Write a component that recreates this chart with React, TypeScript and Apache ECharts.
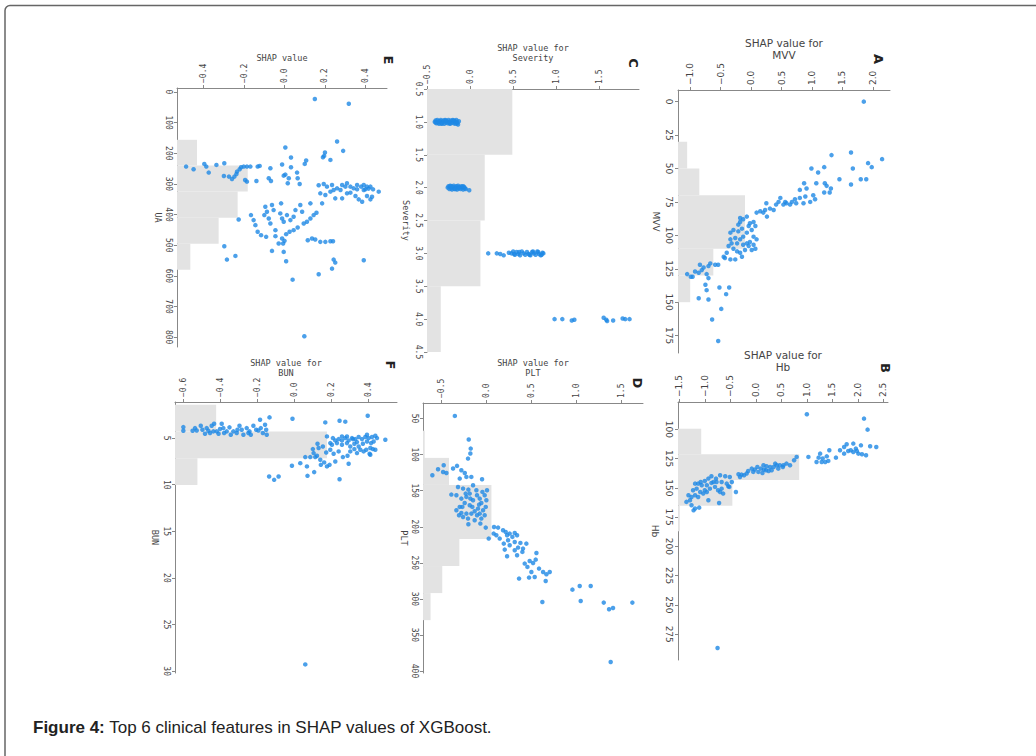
import React, { useEffect, useRef } from "react";
import * as echarts from "echarts";

// ---------- labels ----------
const panelLetters = ["A", "B", "C", "D", "E", "F"];
const featureNames = ["MVV", "Hb", "Severity", "PLT", "UA", "BUN"];
const shapTitles = [
  "SHAP value for\nMVV",
  "SHAP value for\nHb",
  "SHAP value for\nSeverity",
  "SHAP value for\nPLT",
  "SHAP value",
  "SHAP value for\nBUN",
];
const captionBold = "Figure 4:";
const captionText = " Top 6 clinical features in SHAP values of XGBoost.";

// ---------- tick labels ----------
const shapTicksA = [-1.0, -0.5, 0.0, 0.5, 1.0, 1.5, 2.0];
const featTicksA = [0, 25, 50, 75, 100, 125, 150, 175];
const shapTicksB = [-1.5, -1.0, -0.5, 0.0, 0.5, 1.0, 1.5, 2.0, 2.5];
const featTicksB = [100, 125, 150, 175, 200, 225, 250, 275];
const shapTicksC = [-0.5, 0.0, 0.5, 1.0, 1.5];
const featTicksC = [0.5, 1.0, 1.5, 2.0, 2.5, 3.0, 3.5, 4.0, 4.5];
const shapTicksD = [-0.5, 0.0, 0.5, 1.0, 1.5];
const featTicksD = [50, 100, 150, 200, 250, 300, 350, 400];
const shapTicksE = [-0.4, -0.2, 0.0, 0.2, 0.4];
const featTicksE = [0, 100, 200, 300, 400, 500, 600, 700, 800];
const shapTicksF = [-0.6, -0.4, -0.2, 0.0, 0.2, 0.4];
const featTicksF = [5, 10, 15, 20, 25, 30];

// ---------- histograms (bin edges on feature axis, bar extent in SHAP units) ----------
const histEdgesA = [30, 50, 70, 90, 110, 130, 150];
const histExtentA = [-1.05, -0.85, -0.1, -0.1, -0.62, -1.0];
const histEdgesB = [99.5, 121.4, 143.3, 165.2, 187.1];
const histExtentB = [-1.07, 0.85, -0.46, -1.49];
const histEdgesC = [0.5, 1.5, 2.5, 3.5, 4.5];
const histExtentC = [0.49, 0.17, 0.12, -0.34];
const histEdgesD = [67, 104.5, 142, 179.5, 217, 254.5, 292, 329.5];
const histExtentD = [-0.685, -0.415, 0.056, 0.056, -0.3, -0.49, -0.62];
const histEdgesE = [156, 240, 325, 410, 495, 580];
const histExtentE = [-0.433, -0.182, -0.232, -0.326, -0.466];
const histEdgesF = [1.42, 4.29, 7.16, 10.03];
const histExtentF = [-0.423, 0.175, -0.524];

// ---------- points: [feature value, SHAP value] ----------
const pointsA: [number, number][] = [
  [0, 1.85], [38, 1.64], [40, 1.32], [43, 2.15], [46, 1.92], [49, 1.98], [50, 0.99], [50, 1.67], [49, 1.2], [53, 1.1],
  [58, 1.45], [58, 1.8], [58, 1.89], [62, 1.64], [61, 0.87], [61, 1.07], [61, 1.21], [66, 0.8], [65, 0.91], [63, 1.24],
  [65, 1.31], [68, 1.29], [68, 1.2], [70, 1.02], [73, 1.05], [71, 0.89], [72, 0.8], [73, 0.72], [75, 0.67], [76, 0.58],
  [77, 0.53], [72, 0.48], [75, 0.45], [77, 0.41], [81, 0.37], [80, 0.31], [76, 0.25], [81, 0.23], [83, 0.2], [82, 0.15],
  [83, 0.09], [86, 0.26], [76, 0.74], [76, 0.86], [75, 0.97], [77, 0.64], [75, 0.56],
  [86, -0.07], [88, -0.13], [90, -0.18], [91, -0.02], [90, 0.04], [93, 0.07], [96, 0.01], [98, -0.07], [95, -0.15], [97, -0.21],
  [101, -0.13], [103, -0.18], [106, -0.23], [102, -0.26], [106, -0.32], [103, -0.34], [108, -0.37], [110, -0.29], [112, -0.23], [113, -0.18],
  [111, -0.1], [108, -0.04], [111, 0.01], [107, 0.04], [105, -0.02], [106, -0.07], [107, -0.13], [116, -0.15], [118, -0.26], [118, -0.34],
  [117, -0.43], [113, -0.4], [116, -0.45], [98, -0.34], [96, -0.29], [92, -0.21], [87, -0.18], [101, 0.04], [103, 0.09], [110, 0.07], [93, -0.04],
  [122, -0.54], [122, -0.59], [121, -0.67], [123, -0.7], [124, -0.78], [122, -0.84], [126, -0.81], [128, -0.86], [127, -0.92], [131, -0.96],
  [129, -1.05], [131, -0.99], [129, -0.73], [132, -0.7], [137, -0.75], [141, -0.73], [139, -0.52], [139, -0.36], [144, -0.41], [147, -0.86],
  [148, -0.7], [155, -0.49], [163, -0.64], [179, -0.54],
];

const pointsB: [number, number][] = [
  [87.2, 1.0], [90.9, 2.12], [100.3, 2.19], [115.1, 2.36], [113.7, 2.06], [116.5, 1.96], [112.2, 1.91], [112.8, 1.78], [115.1, 1.73], [117.9, 1.65],
  [120.8, 1.73], [118.5, 1.81], [117.9, 1.86], [119.4, 1.91], [118.5, 1.98], [120.8, 2.01], [121.3, 2.08], [122.2, 2.16], [114.5, 2.24], [124.2, 1.57],
  [117.9, 1.44], [123.1, 1.39], [125.0, 1.31], [124.2, 1.23], [127.9, 1.29], [127.9, 1.36], [127.0, 1.42], [127.9, 1.19], [120.8, 1.26], [123.6, 1.03],
  [123.6, 0.8], [126.5, 0.75], [130.7, 0.67], [129.3, 0.6], [130.7, 0.54], [130.7, 0.47], [130.7, 0.41], [129.3, 0.38], [132.2, 0.35], [132.2, 0.28],
  [131.6, 0.21], [130.7, 0.15], [134.4, 0.16], [133.6, 0.1], [132.2, 0.03], [134.4, -0.02], [136.4, -0.05], [133.6, -0.08], [135.6, -0.15], [137.8, -0.18],
  [139.3, -0.23], [138.7, -0.28], [140.7, -0.31], [138.4, -0.34], [135.6, 0.25], [135.0, 0.31], [133.6, 0.44], [132.2, 0.53], [136.4, 0.05], [137.3, 0.13], [135.0, 0.2],
  [140.7, -0.51], [140.1, -0.6], [139.3, -0.7], [142.1, -0.78], [140.1, -0.87], [142.1, -0.93], [144.1, -1.0], [145.0, -1.08], [146.4, -1.13], [146.4, -1.19],
  [147.8, -0.96], [145.8, -0.87], [145.0, -0.77], [145.0, -0.67], [146.4, -0.57], [145.0, -0.47], [149.2, -0.52], [150.7, -0.67], [152.1, -0.74], [149.2, -0.8],
  [150.7, -0.9], [152.1, -1.0], [153.5, -1.09], [150.7, -1.16], [152.1, -1.23], [156.3, -1.19], [157.8, -1.26], [156.3, -1.32], [160.6, -1.29], [162.0, -1.36],
  [164.9, -1.26], [167.7, -1.19], [166.9, -1.11], [169.2, -1.22], [160.6, -0.93], [162.9, -0.72], [153.5, -0.7], [154.9, -0.64], [148.7, -0.54], [153.5, -0.39],
  [145.0, -0.83], [147.8, -1.06], [157.8, -1.13], [154.9, -1.03], [153.5, -0.96], [286.7, -0.75],
];

const pointsC: [number, number][] = [
  [1.0, -0.41], [0.98, -0.4], [1.02, -0.39], [0.97, -0.38], [1.01, -0.37], [1.03, -0.36], [0.99, -0.35], [0.97, -0.34], [1.02, -0.33], [1.0, -0.32],
  [0.98, -0.31], [1.03, -0.3], [0.97, -0.29], [1.01, -0.28], [0.99, -0.27], [1.02, -0.26], [0.97, -0.25], [1.0, -0.24], [1.03, -0.23], [0.98, -0.22],
  [1.01, -0.21], [0.97, -0.2], [1.02, -0.19], [0.99, -0.18], [1.0, -0.17], [0.97, -0.16], [1.02, -0.15], [1.04, -0.14], [0.99, -0.13], [1.01, -0.4],
  [0.99, -0.36], [1.03, -0.33], [0.98, -0.28], [1.02, -0.24], [0.98, -0.19], [1.03, -0.17], [1.0, -0.15],
  [2.0, -0.26], [1.98, -0.25], [2.02, -0.24], [1.97, -0.23], [2.01, -0.22], [2.03, -0.21], [1.99, -0.2], [1.97, -0.19], [2.02, -0.18], [2.0, -0.17],
  [1.98, -0.16], [2.03, -0.15], [1.97, -0.14], [2.01, -0.13], [1.99, -0.12], [2.02, -0.11], [1.98, -0.1], [2.0, -0.09], [2.03, -0.08], [1.99, -0.07],
  [2.01, -0.06], [2.02, -0.05], [2.04, -0.01], [1.98, -0.22], [2.02, -0.17], [2.0, -0.13], [1.98, -0.08],
  [3.0, 0.21], [3.0, 0.31], [3.01, 0.35], [3.03, 0.39], [2.99, 0.45], [3.0, 0.48], [2.97, 0.5], [3.02, 0.52], [2.98, 0.54], [3.01, 0.56],
  [3.03, 0.58], [2.97, 0.6], [3.0, 0.62], [3.02, 0.64], [2.98, 0.66], [3.01, 0.68], [3.03, 0.7], [2.98, 0.72], [3.0, 0.74], [3.02, 0.76],
  [2.97, 0.78], [3.01, 0.8], [3.03, 0.82], [2.99, 0.84], [3.0, 0.85], [3.02, 0.83], [2.98, 0.79], [3.01, 0.51], [2.98, 0.57], [3.02, 0.69], [2.97, 0.73],
  [4.0, 0.98], [4.0, 1.07], [4.02, 1.18], [4.01, 1.21], [3.98, 1.55], [4.01, 1.58], [4.03, 1.59], [4.02, 1.66], [3.99, 1.77], [4.0, 1.8], [4.0, 1.85],
];

const pointsD: [number, number][] = [
  [46.3, -0.35], [79.1, -0.196], [91.6, -0.174], [98.5, -0.178], [105.5, -0.204], [134.1, -0.048],
  [128.6, -0.6], [120.3, -0.537], [114.7, -0.474], [124.0, -0.481], [125.4, -0.444], [119.3, -0.37], [115.6, -0.326], [121.7, -0.278], [125.4, -0.24], [133.2, -0.296],
  [130.9, -0.222], [130.9, -0.167], [144.8, -0.315], [147.1, -0.259], [148.5, -0.2], [142.5, -0.148], [149.4, -0.111], [155.4, -0.389], [156.3, -0.333], [161.0, -0.278],
  [158.6, -0.222], [154.0, -0.185], [163.3, -0.148], [167.0, -0.241], [170.2, -0.185], [172.5, -0.296], [177.1, -0.333], [180.8, -0.278], [181.8, -0.222], [186.4, -0.259],
  [188.7, -0.204], [184.1, -0.304], [181.8, -0.167], [172.5, -0.156], [191.0, -0.13], [196.6, -0.2], [156.3, -0.104], [161.0, -0.074], [156.3, -0.019], [163.3, 0.0],
  [167.0, -0.056], [172.5, -0.007], [174.8, -0.093], [177.1, -0.037], [181.8, -0.074], [184.1, -0.019], [188.7, -0.056], [184.1, -0.104], [195.6, -0.067], [201.2, -0.007],
  [149.4, 0.007], [151.7, -0.044], [169.3, -0.081], [178.5, -0.13], [154.0, -0.23], [161.0, -0.178], [172.5, -0.267],
  [216.4, 0.026], [200.3, 0.085], [201.2, 0.13], [209.5, 0.081], [211.8, 0.111], [216.4, 0.148], [204.9, 0.185], [207.2, 0.215], [211.8, 0.23], [209.5, 0.259],
  [208.6, 0.315], [211.8, 0.341], [214.1, 0.289], [218.7, 0.241], [223.4, 0.193], [225.7, 0.259], [221.1, 0.315], [231.7, 0.204], [240.9, 0.23], [232.6, 0.315],
  [228.9, 0.352], [222.4, 0.378], [234.9, 0.4], [239.6, 0.341], [230.3, 0.407], [223.4, 0.444], [236.3, 0.556], [251.1, 0.426], [247.4, 0.481], [250.2, 0.519],
  [245.6, 0.548], [255.7, 0.456], [262.7, 0.5], [269.6, 0.537], [270.5, 0.474], [271.9, 0.363], [258.0, 0.585], [262.7, 0.63], [265.9, 0.667], [262.7, 0.704],
  [275.2, 0.659], [304.3, 0.622], [287.2, 0.956], [282.1, 1.037], [282.1, 1.159], [302.9, 1.048], [305.2, 1.304], [314.4, 1.363], [312.6, 1.407], [305.2, 1.622],
  [387.5, 1.381],
];

const pointsE: [number, number][] = [
  [22.9, 0.15], [38.2, 0.318], [161.5, 0.26], [192.1, 0.29], [197.5, 0.2], [208.5, 0.196], [212.8, 0.19], [221.6, 0.227], [181.2, 0.004], [213.9, 0.032],
  [223.7, 0.107], [234.7, 0.1],
  [243.4, -0.487], [252.1, -0.45], [234.7, -0.397], [243.4, -0.387], [237.9, -0.337], [232.5, -0.298], [263.0, -0.375], [273.9, -0.3], [283.8, -0.26], [267.4, -0.238],
  [252.1, -0.222], [245.6, -0.215], [243.4, -0.202], [243.4, -0.186], [243.4, -0.169], [243.4, -0.133], [241.2, -0.123], [259.8, -0.235], [276.1, -0.248], [287.0, -0.195],
  [292.5, -0.186], [290.3, -0.139], [248.8, -0.07], [281.6, -0.078], [290.3, -0.067], [236.8, -0.012], [272.9, -0.004], [269.6, 0.004], [281.6, 0.021], [297.9, 0.016],
  [245.6, 0.032], [263.0, 0.062], [281.6, 0.065], [300.1, 0.075], [276.1, -0.275],
  [304.5, 0.169], [300.1, 0.194], [308.8, 0.21], [303.4, 0.235], [319.8, 0.243], [314.4, 0.26], [303.4, 0.285], [308.8, 0.301], [297.9, 0.309], [308.8, 0.326],
  [314.4, 0.342], [303.4, 0.359], [308.8, 0.379], [303.4, 0.392], [317.6, 0.4], [308.8, 0.408], [315.4, 0.416], [308.8, 0.425], [317.6, 0.438], [325.2, 0.466],
  [325.2, 0.227], [336.1, 0.202], [330.7, 0.177], [347.1, 0.251], [347.1, 0.285], [328.5, 0.326], [339.4, 0.351], [350.3, 0.367], [358.0, 0.384], [339.4, 0.408],
  [350.3, 0.425], [341.6, 0.433], [330.7, 0.309], [319.8, 0.277], [363.4, 0.186], [363.4, 0.128], [317.6, 0.359], [319.8, 0.392],
  [401.6, -0.166], [418.0, -0.153], [434.4, -0.144], [456.2, -0.133], [467.1, -0.116], [374.3, -0.095], [390.7, -0.087], [401.6, -0.1], [412.6, -0.078], [368.9, -0.062],
  [385.3, -0.054], [428.9, -0.07], [450.8, -0.045], [396.2, -0.021], [412.6, -0.012], [423.5, -0.004], [363.4, -0.017], [401.6, 0.012], [418.0, 0.029], [407.1, 0.045],
  [385.3, 0.054], [368.9, 0.078], [390.7, 0.087], [428.9, 0.095], [423.5, 0.111], [412.6, 0.128], [401.6, 0.144], [394.0, 0.158], [463.9, 0.008], [456.2, 0.025],
  [450.8, 0.045], [442.0, 0.065], [415.8, -0.227], [470.4, -0.045], [472.6, -0.091], [478.0, -0.012], [494.4, -0.029], [494.4, -0.007], [485.7, 0.0], [483.5, 0.115],
  [478.0, 0.136], [481.4, 0.152], [489.0, 0.177], [489.0, 0.202], [486.8, 0.227], [486.8, 0.24], [503.1, -0.298], [518.4, -0.062], [521.7, -0.004], [546.8, -0.285],
  [534.8, -0.243], [552.3, 0.008], [546.8, 0.243], [556.6, 0.251], [576.3, 0.235], [549.0, 0.392], [594.8, 0.169], [612.3, 0.04], [796.7, 0.098],
];

const pointsF: [number, number][] = [
  [3.82, -0.6], [4.21, -0.6], [4.21, -0.55], [4.18, -0.528], [3.67, -0.506], [3.93, -0.474], [4.21, -0.465], [3.67, -0.447], [3.46, -0.434], [4.53, -0.483],
  [4.46, -0.456], [4.28, -0.42], [4.03, -0.402], [3.46, -0.393], [4.46, -0.38], [4.28, -0.366], [3.85, -0.351], [4.64, -0.344], [4.28, -0.33], [4.46, -0.312],
  [3.67, -0.297], [4.1, -0.285], [4.64, -0.276], [3.93, -0.258], [4.28, -0.243], [4.64, -0.236], [3.67, -0.222], [4.1, -0.207], [4.18, -0.195], [3.03, -0.186],
  [3.93, -0.182], [4.46, -0.171], [3.57, -0.159], [4.1, -0.153], [2.78, -0.135], [4.64, -0.15], [3.93, -0.384], [4.53, -0.41], [4.28, -0.438], [4.1, -0.308],
  [4.46, -0.249], [4.1, -0.497], [3.93, -0.537],
  [2.92, -0.011], [3.32, 0.166], [3.14, 0.243], [3.24, 0.274], [2.6, 0.395],
  [5.18, 0.49], [4.75, 0.436], [4.89, 0.418], [5.0, 0.4], [4.89, 0.382], [5.11, 0.364], [4.89, 0.346], [5.11, 0.328], [5.0, 0.31], [5.25, 0.292],
  [5.0, 0.274], [5.25, 0.256], [5.11, 0.238], [5.25, 0.22], [5.0, 0.207], [5.54, 0.193], [4.82, 0.175], [5.72, 0.202], [5.54, 0.229], [5.72, 0.256],
  [5.54, 0.283], [5.9, 0.301], [5.61, 0.323], [5.9, 0.346], [5.61, 0.369], [5.36, 0.391], [5.54, 0.413], [5.36, 0.427], [5.0, 0.445], [6.07, 0.409],
  [6.25, 0.387], [6.18, 0.423], [6.25, 0.436], [6.68, 0.405], [6.43, 0.373], [6.25, 0.355], [6.61, 0.337], [6.18, 0.323], [6.43, 0.301], [6.9, 0.286],
  [7.04, 0.261], [6.43, 0.238], [6.68, 0.211], [6.25, 0.193], [6.54, 0.171], [5.9, 0.153], [5.61, 0.124], [6.07, 0.13], [6.61, 0.103], [6.18, 0.099],
  [6.9, 0.121], [7.33, 0.139], [7.04, 0.112], [7.87, 0.142], [7.61, 0.16], [8.04, 0.175], [7.87, 0.189], [7.51, 0.22], [7.76, 0.292], [7.04, 0.058],
  [7.69, 0.031], [7.97, -0.014], [8.04, 0.067], [8.65, 0.106], [9.05, 0.07], [7.04, 0.085], [9.41, 0.243], [4.82, 0.256], [5.11, 0.315], [4.82, 0.283],
  [5.43, 0.337], [6.79, 0.409], [4.64, 0.391], [9.12, -0.137], [9.48, -0.11], [9.12, -0.086], [29.28, 0.058],
];

// ---------- panel setup ----------
const SANS = "DejaVu Sans";
const MONO = "DejaVu Sans Mono";

type Panel = {
  grid: { left: number; top: number; width: number; height: number };
  xRange: [number, number];
  yRange: [number, number];
  xTicks: number[];
  yTicks: number[];
  yDec: number;
  edges: number[];
  extent: number[];
  points: [number, number][];
  font: string;
  tickSize: number;
  titleSize: number;
  nameSize: number;
  titleGap: number;
  nameGap: number;
  letterPos: [number, number];
};

const panels: Panel[] = [
  { grid: { left: 678, top: 90, width: 212, height: 263 }, xRange: [-1.2, 2.28], yRange: [-8.7, 188], xTicks: shapTicksA, yTicks: featTicksA, yDec: 0, edges: histEdgesA, extent: histExtentA, points: pointsA, font: SANS, tickSize: 9, titleSize: 10.5, nameSize: 9, titleGap: 29, nameGap: 18, letterPos: [878, 59] },
  { grid: { left: 678, top: 402, width: 210, height: 258 }, xRange: [-1.525, 2.59], yRange: [76.7, 297], xTicks: shapTicksB, yTicks: featTicksB, yDec: 0, edges: histEdgesB, extent: histExtentB, points: pointsB, font: SANS, tickSize: 9, titleSize: 10.5, nameSize: 9, titleGap: 29, nameGap: 19, letterPos: [885, 368] },
  { grid: { left: 427, top: 89, width: 212, height: 263 }, xRange: [-0.5, 1.96], yRange: [0.5, 4.5], xTicks: shapTicksC, yTicks: featTicksC, yDec: 1, edges: histEdgesC, extent: histExtentC, points: pointsC, font: MONO, tickSize: 8, titleSize: 8.5, nameSize: 8.5, titleGap: 26, nameGap: 17, letterPos: [633, 63] },
  { grid: { left: 423, top: 403, width: 220, height: 270 }, xRange: [-0.704, 1.74], yRange: [28.4, 402.8], xTicks: shapTicksD, yTicks: featTicksD, yDec: 0, edges: histEdgesD, extent: histExtentD, points: pointsD, font: MONO, tickSize: 8, titleSize: 8.5, nameSize: 8.5, titleGap: 25, nameGap: 15, letterPos: [637, 383] },
  { grid: { left: 177, top: 88, width: 210, height: 259 }, xRange: [-0.532, 0.507], yRange: [-13, 832], xTicks: shapTicksE, yTicks: featTicksE, yDec: 0, edges: histEdgesE, extent: histExtentE, points: pointsE, font: MONO, tickSize: 8, titleSize: 8.5, nameSize: 8.5, titleGap: 25, nameGap: 15, letterPos: [388, 60] },
  { grid: { left: 175, top: 402, width: 222, height: 271 }, xRange: [-0.645, 0.553], yRange: [1.13, 30.2], xTicks: shapTicksF, yTicks: featTicksF, yDec: 0, edges: histEdgesF, extent: histExtentF, points: pointsF, font: MONO, tickSize: 8, titleSize: 8.5, nameSize: 8.5, titleGap: 24, nameGap: 16, letterPos: [390, 365] },
];

const fmt = (v: number, d: number) => v.toFixed(d).replace("-", "\u2212");

function buildOption() {
  const grid: any[] = [];
  const xAxis: any[] = [];
  const yAxis: any[] = [];
  const series: any[] = [];
  const graphic: any[] = [];
  const axisColor = "#888";
  const textColor = "#444";

  panels.forEach((p, i) => {
    grid.push({ ...p.grid });
    xAxis.push({
      type: "value",
      gridIndex: i,
      position: "top",
      min: p.xRange[0],
      max: p.xRange[1],
      splitLine: { show: false },
      axisLine: { show: true, onZero: false, lineStyle: { color: axisColor, width: 1 } },
      axisTick: { show: true, length: 3, customValues: p.xTicks, lineStyle: { color: axisColor } },
      axisLabel: {
        customValues: p.xTicks,
        rotate: -90,
        margin: 5,
        fontSize: p.tickSize,
        fontFamily: p.font,
        color: textColor,
        formatter: (v: number) => fmt(v, 1),
      },
      name: shapTitles[i],
      nameLocation: "middle",
      nameGap: p.titleGap,
      nameMoveOverlap: false,
      nameTextStyle: { fontSize: p.titleSize, fontFamily: p.font, color: textColor, lineHeight: p.titleSize + 1.5 },
    });
    yAxis.push({
      type: "value",
      gridIndex: i,
      position: "left",
      inverse: true,
      min: p.yRange[0],
      max: p.yRange[1],
      splitLine: { show: false },
      axisLine: { show: true, onZero: false, lineStyle: { color: axisColor, width: 1 } },
      axisTick: { show: true, length: 3, customValues: p.yTicks, lineStyle: { color: axisColor } },
      axisLabel: {
        customValues: p.yTicks,
        rotate: -90,
        margin: 5,
        fontSize: p.tickSize,
        fontFamily: p.font,
        color: textColor,
        formatter: (v: number) => fmt(v, p.yDec),
      },
      name: featureNames[i],
      nameLocation: "middle",
      nameRotate: -90,
      nameGap: p.nameGap,
      nameMoveOverlap: false,
      nameTextStyle: { fontSize: p.nameSize, fontFamily: p.font, color: textColor },
    });

    const histData = p.extent.map((e, k) => [p.edges[k], p.edges[k + 1], e]);
    const xMin = p.xRange[0];
    series.push({
      type: "custom",
      xAxisIndex: i,
      yAxisIndex: i,
      silent: true,
      z: 1,
      encode: { x: 2, y: [0, 1] },
      data: histData,
      renderItem: (params: any, api: any) => {
        const a = api.coord([xMin, api.value(0)]);
        const b = api.coord([api.value(2), api.value(1)]);
        return {
          type: "rect",
          shape: { x: a[0], y: Math.min(a[1], b[1]), width: b[0] - a[0], height: Math.abs(b[1] - a[1]) },
          style: { fill: "#e3e3e3" },
        };
      },
    });
    series.push({
      type: "scatter",
      xAxisIndex: i,
      yAxisIndex: i,
      z: 2,
      symbolSize: 4.5,
      itemStyle: { color: "#1E88E5" },
      data: p.points.map(([f, s]) => [s, f]),
    });

    graphic.push({
      type: "text",
      x: p.letterPos[0],
      y: p.letterPos[1],
      rotation: -Math.PI / 2,
      style: {
        text: panelLetters[i],
        fontSize: 13,
        fontWeight: "bold",
        fontFamily: SANS,
        fill: "#222",
        align: "center",
        verticalAlign: "middle",
      },
    });
  });

  graphic.push({
    type: "rect",
    shape: { x: 5, y: 5.5, width: 1100, height: 800, r: 5 },
    style: { fill: "none", stroke: "#666", lineWidth: 1.5 },
    silent: true,
  });
  graphic.push({
    type: "text",
    x: 33,
    y: 727,
    style: {
      text: "{b|" + captionBold + "}" + captionText,
      fontSize: 17,
      fontFamily: "Liberation Sans",
      fill: "#222",
      verticalAlign: "middle",
      rich: { b: { fontWeight: "bold", fontSize: 17, fontFamily: "Liberation Sans", fill: "#222" } },
    },
  });

  return { animation: false, backgroundColor: "#fff", grid, xAxis, yAxis, series, graphic };
}

export default function App() {
  const ref = useRef<HTMLDivElement>(null);
  useEffect(() => {
    if (!ref.current) return;
    const chart = echarts.init(ref.current, null, { renderer: "svg" });
    chart.setOption(buildOption() as any);
    return () => chart.dispose();
  }, []);
  return (
    <div
      ref={ref}
      style={{ position: "fixed", left: 0, top: 0, width: 1036, height: 756, background: "#fff" }}
    />
  );
}
